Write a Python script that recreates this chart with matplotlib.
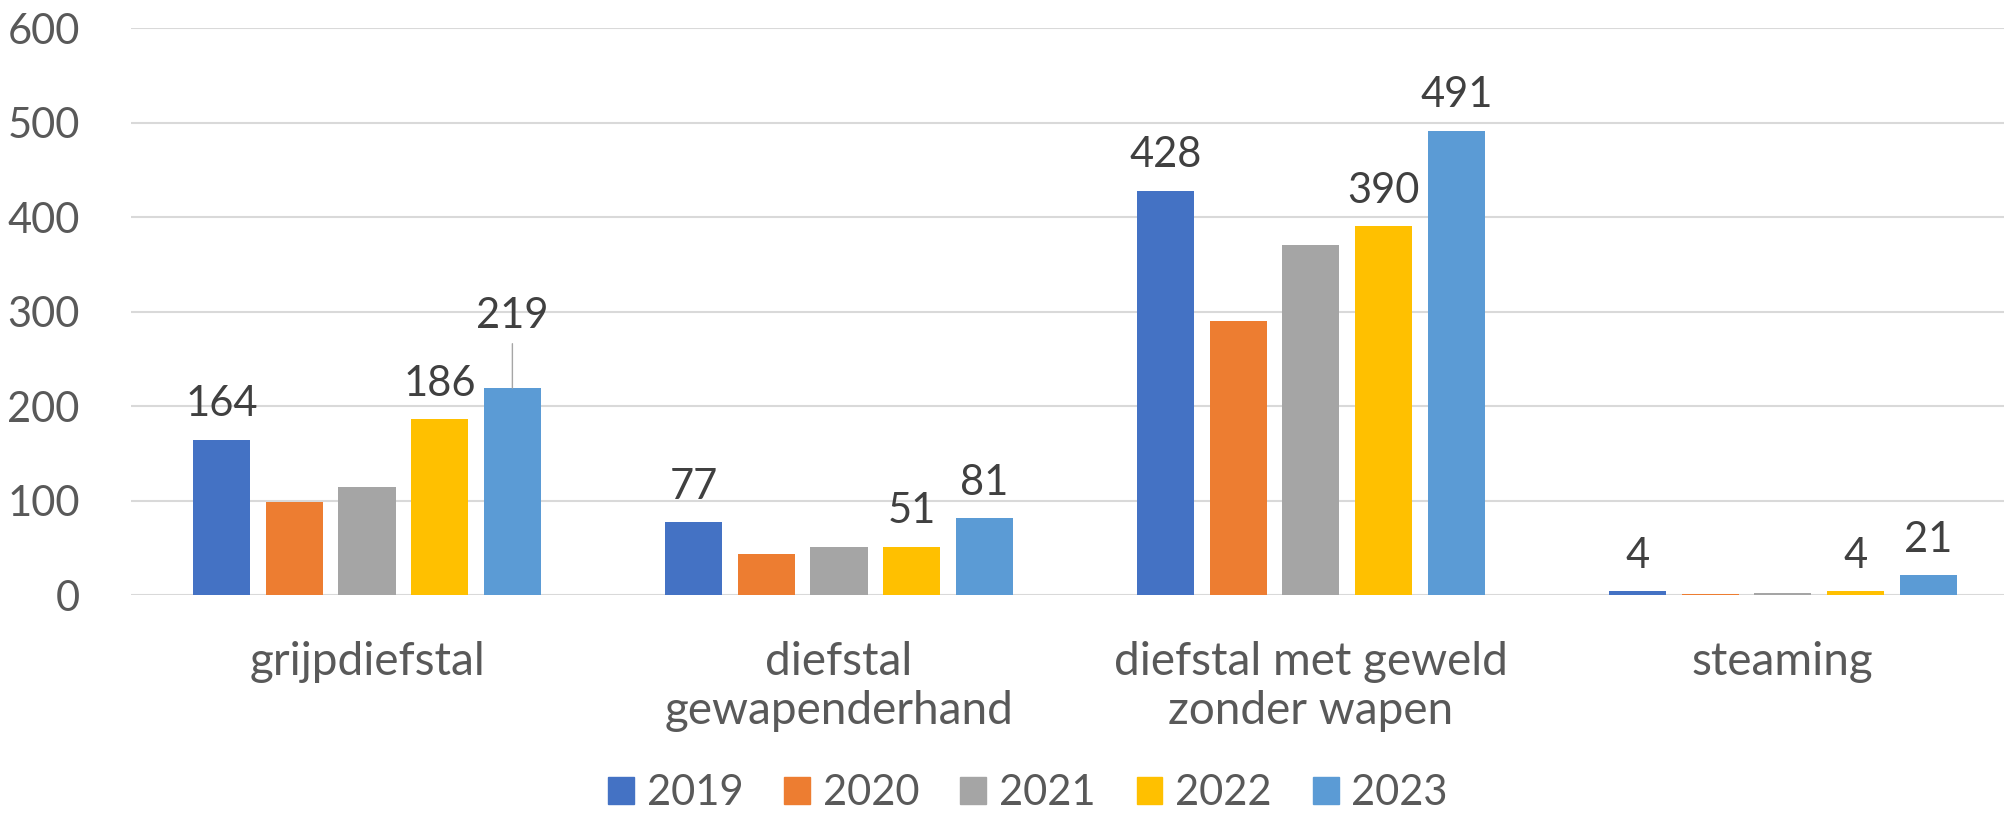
import matplotlib.pyplot as plt
import numpy as np
from matplotlib.patches import Patch

categorieen = ["grijpdiefstal", "diefstal\ngewapenderhand",
               "diefstal met geweld\nzonder wapen", "steaming"]
jaren = ["2019", "2020", "2021", "2022", "2023"]
waarden = {
    "2019": [164, 77, 428, 4],
    "2020": [98, 43, 290, 1],
    "2021": [114, 51, 370, 2],
    "2022": [186, 51, 390, 4],
    "2023": [219, 81, 491, 21],
}
kleuren = ["#4472C4", "#ED7D31", "#A5A5A5", "#FFC000", "#5B9BD5"]
met_label = ["2019", "2022", "2023"]   # alleen deze reeksen hebben labels

plt.rcParams["font.family"] = ["Lato", "DejaVu Sans"]

fig = plt.figure(figsize=(20.04, 8.15), dpi=100)
ax = fig.add_axes([0.0654, 0.2699, 0.942, 0.6957])

x = np.arange(len(categorieen))
breedte = 0.121
stap = 0.154

for i, jaar in enumerate(jaren):
    pos = x + (i - 2) * stap
    ax.bar(pos, waarden[jaar], breedte, color=kleuren[i], zorder=3)
    if jaar not in met_label:
        continue
    for p, v in zip(pos, waarden[jaar]):
        if jaar == "2023" and v == 219:
            # label staat hoger met een lijntje naar de balk
            ax.annotate(str(v), xy=(p, v), xytext=(0, 43), textcoords="offset points",
                        ha="center", va="baseline", fontsize=30, color="#404040",
                        arrowprops=dict(arrowstyle="-", color="#A6A6A6", lw=1,
                                        relpos=(0.5, 0), shrinkA=4, shrinkB=0))
        else:
            ax.annotate(str(v), xy=(p, v), xytext=(0, 17), textcoords="offset points",
                        ha="center", va="baseline", fontsize=30, color="#404040")

ax.set_ylim(0, 600)
ax.set_xlim(-0.5, 3.5)
ax.set_yticks(range(0, 601, 100))
ax.set_xticks(x)
ax.set_xticklabels(categorieen, linespacing=1.2)
ax.tick_params(axis="y", length=0, pad=37, labelsize=30, labelcolor="#595959")
ax.tick_params(axis="x", length=0, pad=33, labelsize=33, labelcolor="#595959")
ax.grid(axis="y", color="#D9D9D9", lw=1.5, zorder=0)
for s in ax.spines.values():
    s.set_visible(False)

handles = [Patch(color=k) for k in kleuren]
fig.legend(handles, jaren, loc="center", bbox_to_anchor=(0.513, 0.027), ncol=5,
           frameon=False, fontsize=30, labelcolor="#595959",
           handlelength=0.62, handleheight=0.62, handletextpad=0.31,
           columnspacing=0.98, borderpad=0, borderaxespad=0)

fig.savefig("out.png", dpi=100)
